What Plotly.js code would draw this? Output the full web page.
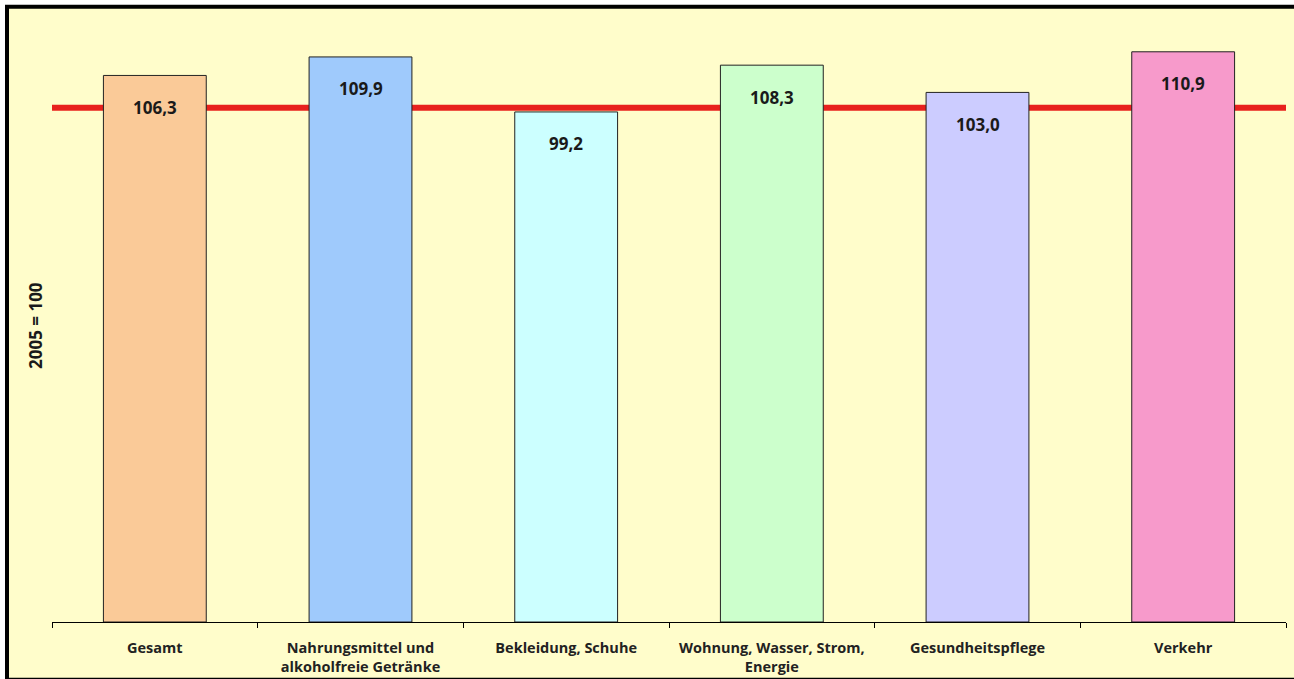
<!DOCTYPE html>
<html>
<head>
<meta charset="utf-8">
<script src="https://cdn.plot.ly/plotly-3.0.1.min.js"></script>
<style>html,body{margin:0;padding:0;background:#fff;}#chart{width:1294px;height:679px;}</style>
</head>
<body>
<div id="chart"></div>
<script>
const categories = ["Gesamt", "Nahrungsmittel und<br>alkoholfreie Getränke", "Bekleidung, Schuhe", "Wohnung, Wasser, Strom,<br>Energie", "Gesundheitspflege", "Verkehr"];
const values = [106.3, 109.9, 99.2, 108.3, 103.0, 110.9];
const valueLabels = ["106,3", "109,9", "99,2", "108,3", "103,0", "110,9"];
const barColors = ["#FACA98", "#9FCAFC", "#CCFFFF", "#CCFFCC", "#CCCCFF", "#F79ACB"];
const baseline = 100;
const yTitle = "2005 = 100";

const W = 1294, H = 679;
const L = 52, R = 8, T = 5.3, B = 57.3;
const pw = W - L - R, ph = H - T - B;
const px = x => (x - L) / pw;
const py = y => (H - B - y) / ph;

const FONT = "Open Sans, Noto Sans, sans-serif";

const trace = {
  type: "bar",
  x: categories,
  y: values,
  width: 0.5,
  marker: {color: barColors, line: {color: "#222", width: 1}},
  hoverinfo: "skip"
};

const annotations = categories.map((c, i) => ({
  x: c, y: values[i], xref: "x", yref: "y",
  text: valueLabels[i], showarrow: false,
  yanchor: "middle", yshift: -32,
  font: {family: FONT, size: 17, color: "#1a1a1a", weight: 700}
}));
annotations.push({
  xref: "paper", yref: "paper", x: px(35), y: py(326),
  text: yTitle, textangle: -90, showarrow: false,
  xanchor: "center", yanchor: "middle",
  font: {family: FONT, size: 17, color: "#1a1a1a", weight: 700}
});

const layout = {
  width: W, height: H,
  margin: {l: L, r: R, t: T, b: B},
  paper_bgcolor: "#ffffff",
  plot_bgcolor: "rgba(0,0,0,0)",
  showlegend: false,
  bargap: 0.5,
  xaxis: {
    type: "category",
    showline: true, linecolor: "#000", linewidth: 1,
    ticks: "outside", ticklen: 5, tickcolor: "#000", tickwidth: 1,
    tickson: "boundaries",
    ticklabelstandoff: 13,
    showgrid: false, zeroline: false,
    tickfont: {family: FONT, size: 14.5, color: "#222", weight: 700},
    fixedrange: true
  },
  yaxis: {
    range: [0, 120],
    showticklabels: false, showgrid: false, zeroline: false, showline: false,
    ticks: "", fixedrange: true
  },
  shapes: [
    {type: "rect", xref: "paper", yref: "paper", layer: "below",
     x0: px(7), x1: px(1300), y0: py(679.5), y1: py(7),
     fillcolor: "#FFFDCB", line: {color: "#000", width: 4}},
    {type: "line", xref: "paper", yref: "y", layer: "below",
     x0: 0, x1: 1, y0: baseline, y1: baseline,
     line: {color: "#E8211D", width: 6}}
  ],
  annotations: annotations
};

Plotly.newPlot("chart", [trace], layout, {displayModeBar: false, staticPlot: true});
</script>
</body>
</html>
